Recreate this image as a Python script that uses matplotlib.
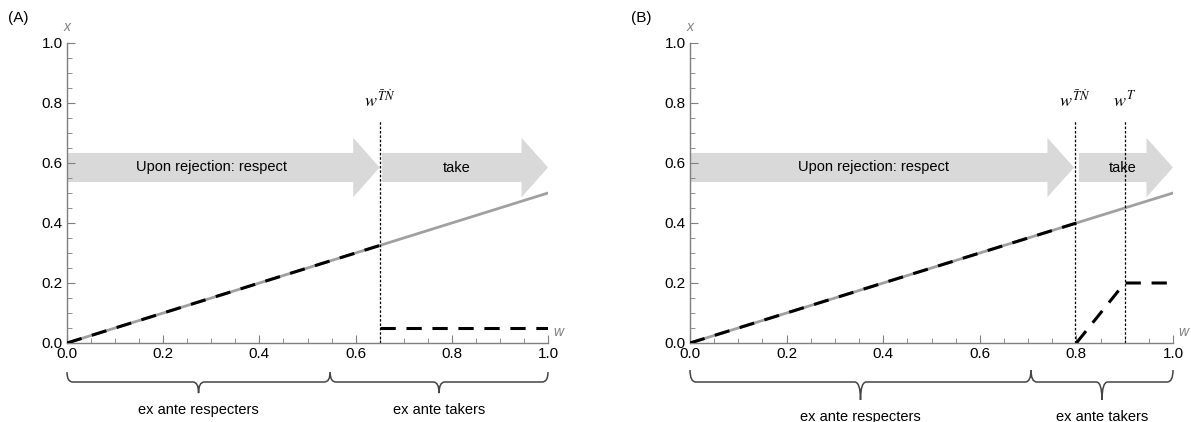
import matplotlib
matplotlib.use('Agg')
from matplotlib import pyplot as plt
from matplotlib.path import Path
from matplotlib.patches import PathPatch
import matplotlib.transforms as mtransforms

plt.rcParams['font.family'] = ['Liberation Sans', 'DejaVu Sans']
plt.rcParams['mathtext.fontset'] = 'stix'

# data
w_line = [0.0, 1.0]
x_line = [0.0, 0.5]

# panel A
a_resp_w = [0.0, 0.65]
a_resp_x = [0.0, 0.325]
a_take_w = [0.65, 1.0]
a_take_x = [0.05, 0.05]
a_thresholds = [0.65]
a_thr_labels = [r'$w^{\bar{T}\dot{N}}$']
a_arrows = [(0.0, 0.65, 'Upon rejection: respect', 0.30), (0.655, 1.0, 'take', 0.81)]
a_braces = [(0.0, 0.547, 'ex ante respecters'), (0.547, 1.0, 'ex ante takers')]

# panel B
b_resp_w = [0.0, 0.8]
b_resp_x = [0.0, 0.4]
b_take_w = [0.8, 0.9, 1.0]
b_take_x = [0.0, 0.2, 0.2]
b_thresholds = [0.797, 0.9]
b_thr_labels = [r'$w^{\bar{T}\dot{N}}$', r'$w^{T}$']
b_arrows = [(0.0, 0.795, 'Upon rejection: respect', 0.38), (0.805, 1.0, 'take', 0.895)]
b_braces = [(0.0, 0.706, 'ex ante respecters'), (0.706, 1.0, 'ex ante takers')]

axis_gray = '#7f7f7f'


def brace(ax, x0, x1, yt, yh, yp, r=0.012):
    xm = (x0 + x1) / 2
    verts = [(x0, yt), (x0, yh), (x0 + r, yh),
             (xm - r, yh),
             (xm, yh), (xm, yp),
             (xm, yh), (xm + r, yh),
             (x1 - r, yh),
             (x1, yh), (x1, yt)]
    codes = [Path.MOVETO, Path.CURVE3, Path.CURVE3,
             Path.LINETO,
             Path.CURVE3, Path.CURVE3,
             Path.CURVE3, Path.CURVE3,
             Path.LINETO,
             Path.CURVE3, Path.CURVE3]
    trans = mtransforms.blended_transform_factory(ax.transData, ax.transAxes)
    ax.add_patch(PathPatch(Path(verts, codes), fill=False, lw=1.1,
                           edgecolor='#444444', transform=trans, clip_on=False))


def panel(ax, tag, resp_w, resp_x, take_w, take_x, thr, thr_labels, arrows, braces,
          brace_y, text_y):
    for (s, e, label, tx) in arrows:
        ax.arrow(s, 0.585, e - s, 0, width=0.097, head_width=0.198, head_length=0.055,
                 length_includes_head=True, color='#d9d9d9', lw=0, zorder=1)
        ax.text(tx, 0.585, label, ha='center', va='center', fontsize=10.5, zorder=3)
    ax.plot(w_line, x_line, color='#a0a0a0', lw=2, zorder=2)
    ax.plot(resp_w, resp_x, color='black', lw=2.2, dashes=(5, 3.5), zorder=3)
    ax.plot(take_w, take_x, color='black', lw=2.2, dashes=(5, 3.5), zorder=3)
    for t, lab in zip(thr, thr_labels):
        ax.plot([t, t], [0, 0.745], color='black', lw=0.9, ls=(0, (2, 1.5)), zorder=2)
        ax.text(t, 0.81, lab, ha='center', va='center', fontsize=13)

    ax.set_xlim(0, 1)
    ax.set_ylim(0, 1)
    ax.set_xticks([0, 0.2, 0.4, 0.6, 0.8, 1.0])
    ax.set_yticks([0, 0.2, 0.4, 0.6, 0.8, 1.0])
    ax.set_xticks([i * 0.05 for i in range(21)], minor=True)
    ax.set_yticks([i * 0.05 for i in range(21)], minor=True)
    ax.set_xticklabels(['0.0', '0.2', '0.4', '0.6', '0.8', '1.0'])
    ax.set_yticklabels(['0.0', '0.2', '0.4', '0.6', '0.8', '1.0'])
    ax.tick_params(which='major', direction='in', length=6, width=0.8, color=axis_gray,
                   labelsize=11, pad=3)
    ax.tick_params(which='minor', direction='in', length=3.5, width=0.6, color=axis_gray)
    for s in ['top', 'right']:
        ax.spines[s].set_visible(False)
    for s in ['left', 'bottom']:
        ax.spines[s].set_color(axis_gray)
        ax.spines[s].set_linewidth(1.0)
    ax.text(0, 1.053, 'x', transform=ax.transAxes, ha='center', va='center',
            style='italic', color=axis_gray, fontsize=10)
    ax.text(1.012, 0.035, 'w', transform=ax.transAxes, ha='left', va='center',
            style='italic', color=axis_gray, fontsize=10)
    ax.text(-0.123, 1.083, tag, transform=ax.transAxes, ha='left', va='center', fontsize=11)

    for (b0, b1, label) in braces:
        brace(ax, b0, b1, *brace_y)
        ax.text((b0 + b1) / 2, text_y, label, ha='center', va='center', fontsize=10.5,
                transform=mtransforms.blended_transform_factory(ax.transData, ax.transAxes))


fig = plt.figure(figsize=(11.91, 4.22), dpi=100)
ax_a = fig.add_axes([67 / 1191, 1 - 343 / 422, 481 / 1191, 300 / 422])
ax_b = fig.add_axes([690 / 1191, 1 - 343 / 422, 483 / 1191, 300 / 422])

panel(ax_a, '(A)', a_resp_w, a_resp_x, a_take_w, a_take_x, a_thresholds, a_thr_labels,
      a_arrows, a_braces, (-0.097, -0.13, -0.167), -0.223)
panel(ax_b, '(B)', b_resp_w, b_resp_x, b_take_w, b_take_x, b_thresholds, b_thr_labels,
      b_arrows, b_braces, (-0.09, -0.13, -0.19), -0.247)

fig.savefig('out.png', dpi=100)
